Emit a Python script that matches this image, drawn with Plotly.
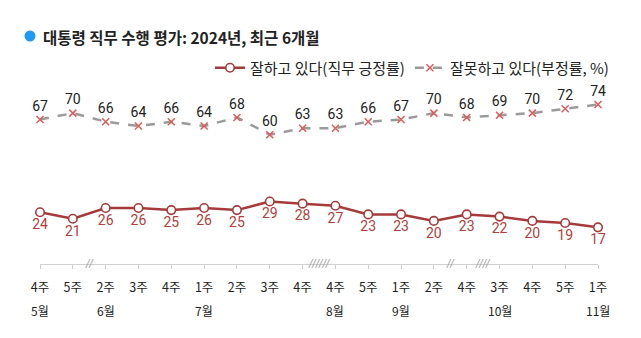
import plotly.graph_objects as go

weeks = ["4주", "5주", "2주", "3주", "4주", "1주", "2주", "3주", "4주",
         "4주", "5주", "1주", "2주", "4주", "3주", "4주", "5주", "1주"]
months = ["5월", "", "6월", "", "", "7월", "", "", "",
          "8월", "", "9월", "", "", "10월", "", "", "11월"]
positive = [24, 21, 26, 26, 25, 26, 25, 29, 28, 27, 23, 23, 20, 23, 22, 20, 19, 17]
negative = [67, 70, 66, 64, 66, 64, 68, 60, 63, 63, 66, 67, 70, 68, 69, 70, 72, 74]
breaks = [(1.5, "//"), (8.5, "//////"), (12.5, "//"), (13.5, "////")]

x = list(range(len(weeks)))
FONT = "Noto Sans CJK KR"
NUMFONT = "Roboto, Noto Sans CJK KR"

fig = go.Figure()
fig.add_trace(go.Scatter(
    x=x, y=positive, name="잘하고 있다(직무 긍정률)",
    mode="lines+markers+text",
    line=dict(color="#a63a3a", width=2.5),
    marker=dict(symbol="circle", size=8.5, color="white",
                line=dict(color="#a63a3a", width=1.6)),
    text=[str(v) for v in positive], textposition="bottom center",
    textfont=dict(family=NUMFONT, size=14, color="#b0403c"),
    cliponaxis=False,
))
fig.add_trace(go.Scatter(
    x=x, y=negative, name="잘못하고 있다(부정률, %)",
    mode="lines+markers+text",
    line=dict(color="#9a9a9a", width=2.5, dash="dash"),
    marker=dict(symbol="x-thin", size=7, color="#e05a5a",
                line=dict(color="#e05a5a", width=1.5)),
    text=[str(v) for v in negative], textposition="top center",
    textfont=dict(family=NUMFONT, size=14, color="#222222"),
    cliponaxis=False,
))

annotations = []
for i, m in enumerate(months):
    if m:
        annotations.append(dict(x=i, y=0, xref="x", yref="paper", text=m,
                                showarrow=False, yanchor="middle", yshift=-46,
                                font=dict(family=FONT, size=12, color="#222222")))
for bx, bt in breaks:
    annotations.append(dict(x=bx, y=0, xref="x", yref="paper", text="<i>" + bt + "</i>",
                            showarrow=False, yanchor="middle", yshift=1,
                            font=dict(family="DejaVu Sans", size=10, color="#a0a0a0")))

annotations.append(dict(x=(41 - 40) / 558, y=(264 - 37) / 194, xref="paper", yref="paper",
                        text="<b>대통령 직무 수행 평가: 2024년, 최근 6개월</b>",
                        showarrow=False, xanchor="left", yanchor="middle",
                        font=dict(family=FONT, size=15.5, color="#222222")))

fig.update_layout(
    width=641, height=338,
    margin=dict(l=40, r=43, t=70, b=74),
    paper_bgcolor="white", plot_bgcolor="white",
    showlegend=True,
    legend=dict(orientation="h", x=(614 - 40) / 558, y=(264 - 68) / 194,
                xanchor="right", yanchor="middle",
                font=dict(family=FONT, size=15, color="#222222"),
                bgcolor="rgba(0,0,0,0)", itemwidth=30, tracegroupgap=0),
    xaxis=dict(range=[0, 17], tickvals=x, ticktext=weeks,
               showgrid=False, zeroline=False, showline=True,
               linecolor="#d0d0d0", linewidth=1,
               ticks="outside", ticklen=4, tickcolor="#d0d0d0",
               tickfont=dict(family=FONT, size=12.5, color="#222222"),
               ticklabelstandoff=8, fixedrange=True),
    yaxis=dict(range=[0, 90], visible=False, fixedrange=True),
    annotations=annotations,
    shapes=[dict(type="circle", xref="paper", yref="paper",
                 xsizemode="pixel", ysizemode="pixel",
                 xanchor=(30 - 40) / 558, yanchor=(264 - 36) / 194,
                 x0=-5.5, x1=5.5, y0=-5.5, y1=5.5,
                 fillcolor="#1e9af0", line=dict(width=0))],
)

fig.write_html("out.html")
